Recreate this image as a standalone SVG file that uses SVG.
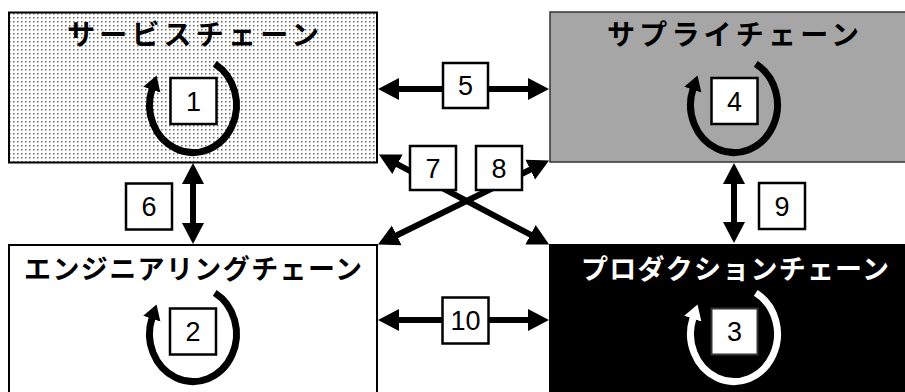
<svg xmlns="http://www.w3.org/2000/svg" width="905" height="392" viewBox="0 0 905 392">
<defs>
<pattern id="dots" width="4" height="4" patternUnits="userSpaceOnUse">
<rect width="4" height="4" fill="#ffffff"/>
<rect x="1" y="1" width="1.5" height="1.5" fill="#666"/>
</pattern>
<marker id="ah" markerUnits="userSpaceOnUse" markerWidth="22" markerHeight="24" viewBox="0 -12 22 24" refX="1" refY="0" orient="auto-start-reverse">
<path d="M0,-11 L21,0 L0,11 z" fill="#000"/>
</marker>
<marker id="ch" markerUnits="userSpaceOnUse" markerWidth="17" markerHeight="20" viewBox="0 -10 17 20" refX="1" refY="0" orient="auto">
<path d="M0,-9 L15,0 L0,9 z" fill="#000"/>
</marker>
<marker id="chw" markerUnits="userSpaceOnUse" markerWidth="17" markerHeight="20" viewBox="0 -10 17 20" refX="1" refY="0" orient="auto">
<path d="M0,-9 L15,0 L0,9 z" fill="#fff"/>
</marker>
</defs>
<style>
.title{font-family:"Noto Sans CJK JP","Noto Sans CJK SC",sans-serif;font-weight:bold;text-anchor:middle}
.num{font-family:"Liberation Sans",Arial,sans-serif;font-size:27px;text-anchor:middle;fill:#000}
.lbl{fill:#fff;stroke:#000;stroke-width:2.5}
.conn{stroke:#000;stroke-width:6;fill:none;marker-start:url(#ah);marker-end:url(#ah)}
.cyc{fill:none;stroke:#000;stroke-width:7;marker-end:url(#ch)}
.cycw{fill:none;stroke:#fff;stroke-width:7;marker-end:url(#chw)}
</style>
<rect width="905" height="392" fill="#fff"/>

<g id="service-chain">
<rect x="9" y="12.5" width="368" height="150" fill="url(#dots)" stroke="#000" stroke-width="2"/>
<text class="title" x="193" y="45" font-size="28" textLength="252" lengthAdjust="spacing">サービスチェーン</text>
<path class="cyc" d="M214.75,63.86 A43.5,47.5 0 1 1 152.12,88.75"/>
<rect class="lbl" x="170.5" y="78" width="46" height="46" stroke-width="3"/>
<text class="num" x="193.5" y="110.7">1</text>
</g>

<g id="supply-chain">
<rect x="550" y="12" width="370" height="150" fill="#a6a6a6" stroke="#333" stroke-width="1.5"/>
<text class="title" x="733" y="45" font-size="28" textLength="252" lengthAdjust="spacing">サプライチェーン</text>
<path class="cyc" d="M755.75,63.86 A43.5,47.5 0 1 1 693.12,88.75"/>
<rect class="lbl" x="711.5" y="78" width="46" height="46" stroke-width="3"/>
<text class="num" x="734.5" y="110.7">4</text>
</g>

<g id="engineering-chain">
<rect x="9" y="245" width="368" height="160" fill="#fff" stroke="#000" stroke-width="2"/>
<text class="title" x="193" y="279" font-size="27" textLength="338" lengthAdjust="spacing">エンジニアリングチェーン</text>
<path class="cyc" d="M214.75,292.86 A43.5,47.5 0 1 1 152.12,317.75"/>
<rect class="lbl" x="170" y="308.5" width="46" height="46"/>
<text class="num" x="193" y="341.2">2</text>
</g>

<g id="production-chain">
<rect x="549" y="244" width="370" height="160" fill="#000"/>
<text class="title" x="735" y="279" font-size="27" textLength="308" lengthAdjust="spacing" fill="#fff">プロダクションチェーン</text>
<path class="cycw" d="M755.75,292.86 A43.5,47.5 0 1 1 693.12,317.75"/>
<rect x="711.5" y="308.5" width="46" height="46" fill="#fff" stroke="#333" stroke-width="2"/>
<text class="num" x="734.5" y="341.2">3</text>
</g>

<g id="connectors">
<line class="conn" x1="398" y1="89" x2="529" y2="89"/>
<line class="conn" x1="193" y1="183" x2="193" y2="224"/>
<line class="conn" x1="396.6" y1="163.8" x2="531.4" y2="235.2"/>
<line class="conn" x1="531.1" y1="169.3" x2="395.9" y2="235.7"/>
<line class="conn" x1="734" y1="183" x2="734" y2="223"/>
<line class="conn" x1="398" y1="320" x2="529" y2="320"/>
<g id="connector-labels">
<rect class="lbl" x="443" y="63" width="45" height="45"/>
<text class="num" x="465.5" y="95.2">5</text>
<rect class="lbl" x="126" y="183.5" width="46" height="46"/>
<text class="num" x="149" y="216.2">6</text>
<rect class="lbl" x="410" y="146" width="46" height="44"/>
<text class="num" x="433" y="177.7">7</text>
<rect class="lbl" x="476" y="146" width="46" height="44"/>
<text class="num" x="499" y="177.7">8</text>
<rect class="lbl" x="759" y="183" width="46" height="46"/>
<text class="num" x="782" y="215.7">9</text>
<rect class="lbl" x="442.5" y="297.5" width="46" height="46"/>
<text class="num" x="465.5" y="330.2">10</text>
</g>
</g>
</svg>
